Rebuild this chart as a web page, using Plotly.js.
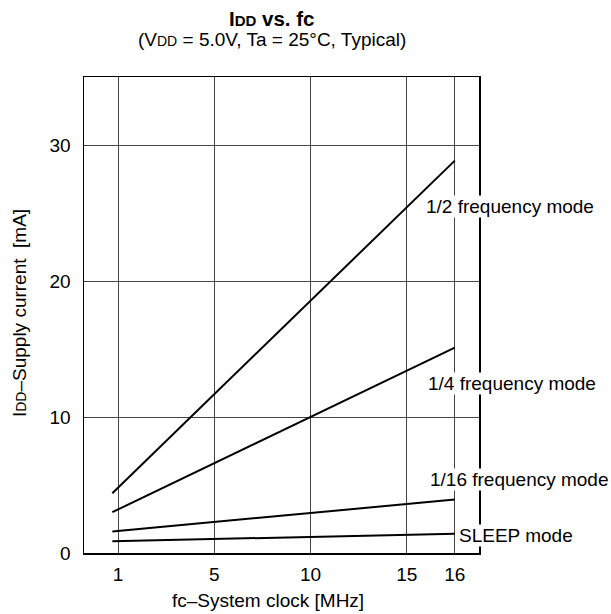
<!DOCTYPE html>
<html>
<head>
<meta charset="utf-8">
<script src="https://cdn.plot.ly/plotly-3.0.1.min.js"></script>
<style>html,body{margin:0;padding:0;background:#fff;}#chart{width:611px;height:614px;}</style>
</head>
<body>
<div id="chart"></div>
<script>
// Axis positions of the printed x ticks (the printed axis is not proportional)
const xTickPos = [0, 5, 10, 15, 17.5];
const xTickLabels = ['1', '5', '10', '15', '16'];
const yTickVals = [0, 10, 20, 30];

// Line endpoints (axis positions): just left of "1" to "16"
const lineX = [-0.3, 17.5];

// Supply current [mA] at start / end
const halfMode = [4.4, 28.85];
const quarterMode = [3.0, 15.1];
const sixteenthMode = [1.58, 3.93];
const sleepMode = [0.87, 1.41];

const seriesNames = ['1/2 frequency mode', '1/4 frequency mode', '1/16 frequency mode', 'SLEEP mode'];
const seriesValues = [halfMode, quarterMode, sixteenthMode, sleepMode];
const labelY = [25.5, 12.43, 5.42, 1.32];
const labelXPaper = [0.863, 0.868, 0.8727, 0.9468];

const FONT = 'Liberation Sans, Arial, Helvetica, sans-serif';
const sm = (s, px) => '<span style="font-size:' + px + 'px">' + s + '</span>';

const traces = seriesValues.map((v, i) => ({
  x: lineX, y: v, type: 'scatter', mode: 'lines', name: seriesNames[i],
  line: {color: '#000', width: 2}, hoverinfo: 'skip'
}));

const annotations = seriesNames.map((n, i) => ({
  text: n, xref: 'paper', yref: 'y', x: labelXPaper[i], y: labelY[i],
  xanchor: 'left', yanchor: 'middle', showarrow: false,
  bgcolor: '#fff', borderpad: 0, font: {family: FONT, size: 19, color: '#000'}
}));

annotations.push(
  {text: '<b>I' + sm('DD', 15) + ' vs. fc</b>', xref: 'paper', yref: 'paper', x: 0.476, y: 1.123,
   xanchor: 'center', yanchor: 'middle', showarrow: false, font: {family: FONT, size: 20.5, color: '#000'}},
  {text: '(V' + sm('DD', 14) + ' = 5.0V, Ta = 25°C, Typical)', xref: 'paper', yref: 'paper', x: 0.4747, y: 1.078,
   xanchor: 'center', yanchor: 'middle', showarrow: false, font: {family: FONT, size: 19, color: '#000'}},
  {text: 'fc–System clock [MHz]', xref: 'paper', yref: 'paper', x: 0.4666, y: -0.0998,
   xanchor: 'center', yanchor: 'middle', showarrow: false, font: {family: FONT, size: 19, color: '#000'}},
  {text: 'I' + sm('DD', 14) + '–Supply current\u00a0\u00a0[mA]', xref: 'paper', yref: 'paper', x: -0.1646, y: 0.504,
   xanchor: 'center', yanchor: 'middle', textangle: -90, showarrow: false, font: {family: FONT, size: 19, color: '#000'}}
);

const layout = {
  width: 611, height: 614,
  margin: {l: 84, r: 132, t: 77, b: 61},
  paper_bgcolor: '#fff', plot_bgcolor: '#fff',
  showlegend: false,
  font: {family: FONT, size: 19, color: '#000'},
  xaxis: {
    range: [-1.773, 18.758], tickmode: 'array', tickvals: xTickPos, ticktext: xTickLabels,
    showgrid: true, gridcolor: '#444', gridwidth: 1, zeroline: false,
    showline: true, linecolor: '#000', linewidth: 1.5, mirror: true, ticks: '',
    ticklabelstandoff: 4,
    tickfont: {family: FONT, size: 19, color: '#000'}, fixedrange: true
  },
  yaxis: {
    range: [0, 35], tickmode: 'array', tickvals: yTickVals,
    showgrid: true, gridcolor: '#444', gridwidth: 1, zeroline: false,
    showline: true, linecolor: '#000', linewidth: 1.5, mirror: true, ticks: '',
    ticklabelstandoff: 8,
    tickfont: {family: FONT, size: 19, color: '#000'}, fixedrange: true
  },
  annotations: annotations
};

Plotly.newPlot('chart', traces, layout, {displayModeBar: false, staticPlot: true});
</script>
</body>
</html>
